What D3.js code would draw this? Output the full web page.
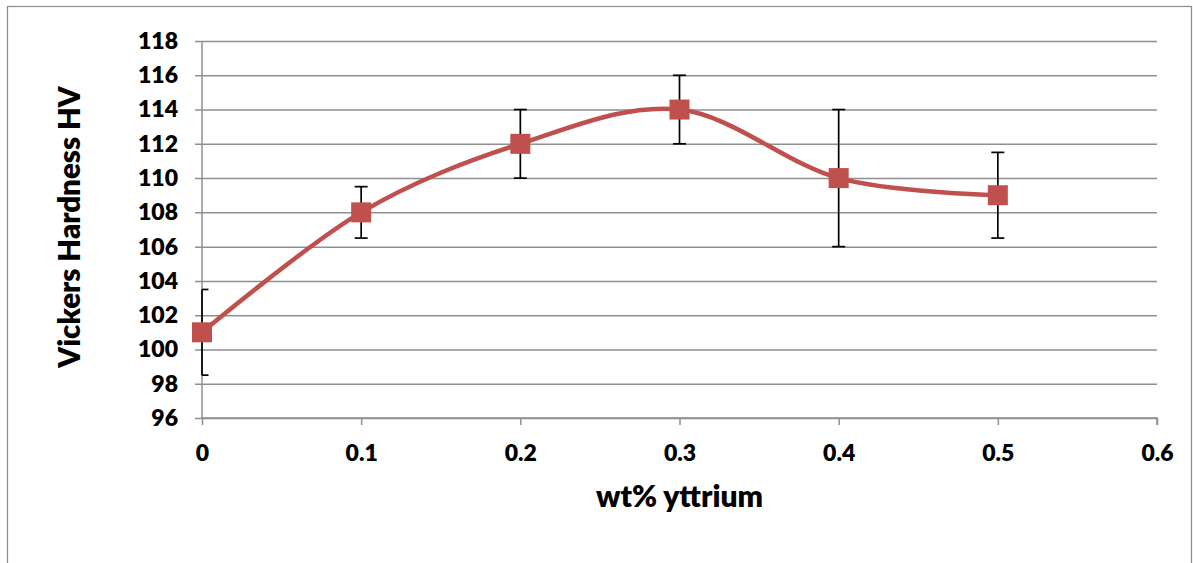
<!DOCTYPE html>
<html>
<head>
<meta charset="utf-8">
<script src="https://cdn.jsdelivr.net/npm/d3@7"></script>
<style>
  html, body { margin: 0; padding: 0; background: #fff; }
  svg { display: block; }
  text { font-family: Lato, "Open Sans", "Liberation Sans", sans-serif; font-weight: 800; fill: #000; }
</style>
</head>
<body>
<svg id="chart" width="1193" height="563"></svg>
<script>
// Yttrium content (wt%) and measured Vickers hardness with error bars
const yttrium = [0, 0.1, 0.2, 0.3, 0.4, 0.5];
const hardness = [101, 108, 112, 114, 110, 109];
const errPlus = [2.5, 1.5, 2, 2, 4, 2.5];
const errMinus = [2.5, 1.5, 2, 2, 4, 2.5];
const xTicks = [0, 0.1, 0.2, 0.3, 0.4, 0.5, 0.6];
const yTicks = [96, 98, 100, 102, 104, 106, 108, 110, 112, 114, 116, 118];

const svg = d3.select("#chart");

// chart frame
svg.append("rect")
  .attr("x", 7.5).attr("y", 6.5)
  .attr("width", 1184).attr("height", 600)
  .attr("fill", "none").attr("stroke", "#8c8c8c").attr("stroke-width", 1.2);

const x = d3.scaleLinear().domain([0, 0.6]).range([202, 1157]);
const y = d3.scaleLinear().domain([96, 118]).range([418, 41]);

const gridColor = "#8f8f8f";

// horizontal gridlines extending slightly left of the value axis as ticks
const yAxis = d3.axisLeft(y)
  .tickValues(yTicks)
  .tickSize(x(0.6) - x(0) + 7)
  .tickPadding(17)
  .tickFormat(d => d);
const gy = svg.append("g").attr("transform", `translate(${x(0.6)},0)`).call(yAxis);
gy.select(".domain").remove();
gy.selectAll(".tick line").attr("stroke", gridColor).attr("stroke-width", 1.5);
gy.selectAll(".tick text")
  .attr("x", -(x(0.6) - x(0)) - 24)
  .attr("font-size", 23).attr("font-family", null).attr("fill", "#000");

// vertical value-axis line
svg.append("line")
  .attr("x1", x(0)).attr("x2", x(0)).attr("y1", y(118)).attr("y2", y(96))
  .attr("stroke", gridColor).attr("stroke-width", 1.5);

// x axis with downward ticks
const xAxis = d3.axisBottom(x).tickValues(xTicks).tickSize(7).tickPadding(20).tickFormat(d => d);
const gx = svg.append("g").attr("transform", `translate(0,${y(96)})`).call(xAxis);
gx.select(".domain").attr("stroke", gridColor).attr("stroke-width", 1.5).attr("d", `M${x(0)},0H${x(0.6)}V7`);
gx.selectAll(".tick line").attr("stroke", gridColor).attr("stroke-width", 1.5);
gx.selectAll(".tick text").attr("font-size", 23).attr("font-family", null).attr("fill", "#000");

// axis titles
svg.append("text")
  .attr("x", x(0.3)).attr("y", 507)
  .attr("text-anchor", "middle")
  .attr("font-size", 30)
  .text("wt% yttrium");
svg.append("text")
  .attr("transform", `translate(80,227) rotate(-90)`)
  .attr("text-anchor", "middle")
  .attr("font-size", 29.5)
  .text("Vickers Hardness HV");

const pts = yttrium.map((v, i) => ({ x: v, y: hardness[i], hi: errPlus[i], lo: errMinus[i] }));

// smoothed series line
const line = d3.line().x(d => x(d.x)).y(d => y(d.y)).curve(d3.curveCatmullRom.alpha(0));
svg.append("path").datum(pts)
  .attr("d", line)
  .attr("fill", "none")
  .attr("stroke", "#C0504D")
  .attr("stroke-width", 4.5)
  .attr("stroke-linejoin", "round");

// error bars, caps clipped to the plot area
const eb = svg.append("g").attr("stroke", "#000").attr("stroke-width", 1.7);
const cap = 6.5;
pts.forEach(d => {
  const cx = x(d.x);
  const left = Math.max(cx - cap, x(0));
  eb.append("line").attr("x1", cx).attr("x2", cx).attr("y1", y(d.y + d.hi)).attr("y2", y(d.y - d.lo));
  eb.append("line").attr("x1", left).attr("x2", cx + cap).attr("y1", y(d.y + d.hi)).attr("y2", y(d.y + d.hi));
  eb.append("line").attr("x1", left).attr("x2", cx + cap).attr("y1", y(d.y - d.lo)).attr("y2", y(d.y - d.lo));
});

// square markers
const s = 20;
svg.append("g").selectAll("rect").data(pts).join("rect")
  .attr("x", d => x(d.x) - s / 2).attr("y", d => y(d.y) - s / 2)
  .attr("width", s).attr("height", s)
  .attr("fill", "#C0504D");
</script>
</body>
</html>
